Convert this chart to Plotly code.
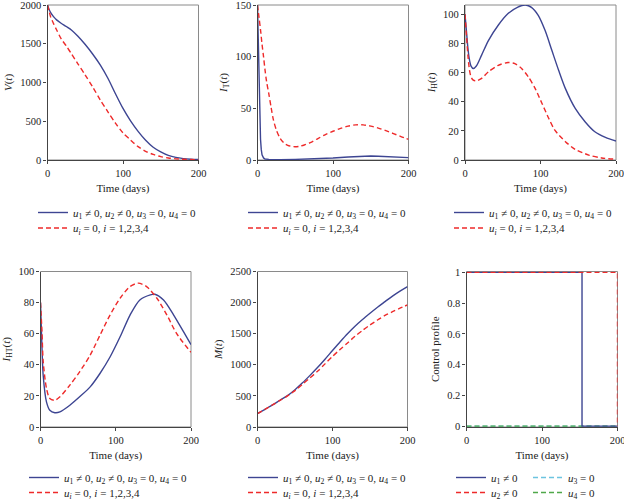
import plotly.graph_objects as go

# ---------------- data ----------------
# Panel 1: V(t)
t_V = [0, 2, 4, 8, 12, 18, 25, 32, 40, 50, 60, 70, 80, 90, 100, 110, 120, 130, 140, 150, 160, 170, 180, 190, 200]
V_ctrl = [2000, 1945, 1905, 1850, 1808, 1765, 1722, 1675, 1600, 1490, 1365, 1225, 1055, 855, 665, 505, 370, 255, 165, 105, 60, 33, 18, 10, 6]
V_none = [2000, 1925, 1850, 1760, 1680, 1565, 1470, 1365, 1245, 1095, 940, 773, 622, 475, 350, 258, 172, 112, 72, 43, 26, 15, 9, 6, 4]

# Panel 2: I_T(t)
t_IT_ctrl = [0, 1, 2, 3, 4, 5, 6, 8, 10, 15, 20, 30, 50, 70, 100, 120, 140, 150, 160, 180, 200]
IT_ctrl = [150, 110, 70, 38, 20, 10, 5, 2, 1.0, 0.6, 0.4, 0.4, 0.6, 1.0, 1.9, 2.9, 3.7, 3.8, 3.6, 3.0, 2.3]
t_IT_none = [0, 2, 4, 6, 8, 10, 12, 15, 18, 21, 25, 30, 35, 40, 48, 55, 62, 70, 80, 90, 100, 110, 120, 130, 140, 150, 160, 170, 180, 190, 200]
IT_none = [150, 138, 126, 112, 100, 87, 76, 64, 51, 39, 29, 21, 16.5, 14.2, 12.9, 13.2, 14.5, 16.8, 20.8, 24.6, 27.8, 30.6, 32.8, 34, 34, 32.8, 30.9, 28.5, 25.6, 22.7, 20]

# Panel 3: I_H(t)
t_IH_ctrl = [0, 2, 4, 6, 8, 11, 15, 22, 31, 44, 57, 70, 80, 88, 97, 106, 115, 124, 133, 146, 159, 172, 186, 200]
IH_ctrl = [100, 88, 76, 68.5, 64.5, 62.8, 64.5, 72, 82, 92.5, 100.5, 105, 106.4, 104.8, 99.3, 89, 75.3, 61.6, 49, 35.4, 26.3, 19.4, 15.5, 13]
t_IH_none = [0, 2, 4, 6, 8, 11, 15, 22, 31, 44, 57, 66, 75, 84, 93, 102, 111, 119, 133, 146, 164, 181, 200]
IH_none = [100, 85, 71, 61.5, 57, 54.8, 54.3, 56, 60.5, 65, 66.9, 66.2, 62.8, 57, 49, 38.8, 28.5, 20.5, 12.6, 7.3, 3.4, 1.4, 0.5]

# Panel 4: I_HT(t)
t_IHT_ctrl = [0, 2, 3.6, 8, 12.4, 19, 25.8, 39, 52, 66, 79, 92.4, 105.8, 119, 132, 146, 152, 163.5, 177, 190, 200]
IHT_ctrl = [80, 50.5, 33, 16, 10.8, 9.2, 9.7, 14, 19.4, 25.8, 34.4, 45, 58, 72, 81.7, 85, 85.4, 81.7, 72, 61.3, 53]
t_IHT_none = [0, 2, 3.6, 8, 12.4, 19, 25.8, 39, 52, 66, 79, 92.4, 105.8, 119, 130, 141, 154.7, 168, 181, 200]
IHT_none = [80, 61, 42, 24.7, 18.3, 17.2, 19.4, 26.9, 35.5, 46.2, 59, 72, 82.8, 90.3, 92.5, 90.3, 82.8, 72, 60, 48]

# Panel 5: M(t)
t_M = [0, 10, 20, 30, 40, 50, 60, 70, 80, 90, 100, 110, 120, 130, 140, 150, 160, 170, 180, 190, 200]
M_ctrl = [215, 285, 355, 430, 505, 600, 710, 830, 955, 1090, 1230, 1368, 1500, 1620, 1728, 1828, 1925, 2015, 2105, 2185, 2258]
M_none = [215, 285, 355, 428, 500, 585, 688, 790, 895, 1015, 1135, 1245, 1350, 1458, 1552, 1640, 1720, 1793, 1853, 1910, 1962]

# Panel 6: control profiles
t_u1 = [0, 153, 153, 200]
u1 = [1, 1, 0, 0]
t_u2 = [0, 200, 200]
u2 = [1, 1, 0]
t_u3 = [0, 200]
u3 = [0, 0]
t_u4 = [0, 200]
u4 = [0, 0]

# ---------------- labels ----------------
x_title = "Time (days)"
y_titles = ["<i>V</i>(<i>t</i>)", "<i>I</i><sub>T</sub>(<i>t</i>)", "<i>I</i><sub>H</sub>(<i>t</i>)",
            "<i>I</i><sub>HT</sub>(<i>t</i>)", "<i>M</i>(<i>t</i>)", "Control profile"]
name_ctrl = "<i>u</i><sub>1</sub> ≠ 0, <i>u</i><sub>2</sub> ≠ 0, <i>u</i><sub>3</sub> = 0, <i>u</i><sub>4</sub> = 0"
name_none = "<i>u<sub>i</sub></i> = 0, <i>i</i> = 1,2,3,4"
names_u = ["<i>u</i><sub>1</sub> ≠ 0", "<i>u</i><sub>2</sub> ≠ 0", "<i>u</i><sub>3</sub> = 0", "<i>u</i><sub>4</sub> = 0"]

# ---------------- style ----------------
W, H = 624, 501
FONT = "Liberation Serif"
BLUE = "#3d4592"
RED = "#ee2a2a"
CYAN = "#6cc4e0"
GREEN = "#4fa84a"
DASH = "5px,3px"

def px(x):
    return x / W

def py(y):
    return 1 - y / H

# panel boxes in pixels: left, right, top, bottom
boxes = [(47.5, 198.5, 5, 160), (257.5, 408.5, 5, 160), (465, 616, 5, 160),
         (40.5, 191, 271.5, 427), (257.5, 407.5, 271.5, 427), (466.5, 617.5, 271.5, 427)]
yranges = [[0, 2000], [0, 150], [0, 106.4], [0, 100], [0, 2500], [-0.006, 1.006]]
ydticks = [500, 50, 20, 20, 500, 0.2]

fig = go.Figure()

legend_id = [0]
legends = {}

def add(xs, ys, color, dash, name, panel, lx, ly, shape="spline"):
    legend_id[0] += 1
    lid = "legend" if legend_id[0] == 1 else f"legend{legend_id[0]}"
    ax = "" if panel == 1 else str(panel)
    fig.add_trace(go.Scatter(
        x=xs, y=ys, mode="lines", name=name,
        line=dict(color=color, width=1.4, dash=dash, shape=shape, smoothing=0.8 if shape == "spline" else None),
        xaxis="x" + ax, yaxis="y" + ax, legend=lid, showlegend=True))
    legends[lid] = dict(x=px(lx - 40), y=py(ly), xanchor="left", yanchor="middle",
                        bgcolor="rgba(0,0,0,0)", borderwidth=0,
                        font=dict(family=FONT, size=11, color="#222"))

top_rows = (212.5, 228)
bot_rows = (477.5, 492.5)

add(t_V, V_ctrl, BLUE, "solid", name_ctrl, 1, 73, top_rows[0])
add(t_V, V_none, RED, DASH, name_none, 1, 73, top_rows[1])
add(t_IT_ctrl, IT_ctrl, BLUE, "solid", name_ctrl, 2, 283, top_rows[0], shape="linear")
add(t_IT_none, IT_none, RED, DASH, name_none, 2, 283, top_rows[1])
add(t_IH_ctrl, IH_ctrl, BLUE, "solid", name_ctrl, 3, 489, top_rows[0])
add(t_IH_none, IH_none, RED, DASH, name_none, 3, 489, top_rows[1])
add(t_IHT_ctrl, IHT_ctrl, BLUE, "solid", name_ctrl, 4, 64, bot_rows[0])
add(t_IHT_none, IHT_none, RED, DASH, name_none, 4, 64, bot_rows[1])
add(t_M, M_ctrl, BLUE, "solid", name_ctrl, 5, 283, bot_rows[0])
add(t_M, M_none, RED, DASH, name_none, 5, 283, bot_rows[1])
add(t_u3, u3, CYAN, DASH, names_u[2], 6, 568, bot_rows[0], shape="linear")
add(t_u4, u4, GREEN, DASH, names_u[3], 6, 568, bot_rows[1], shape="linear")
add(t_u1, u1, BLUE, "solid", names_u[0], 6, 491, bot_rows[0], shape="linear")
add(t_u2, u2, RED, DASH, names_u[1], 6, 491, bot_rows[1], shape="linear")

layout = dict(
    width=W, height=H, margin=dict(l=0, r=0, t=0, b=0, autoexpand=False),
    paper_bgcolor="white", plot_bgcolor="white",
    font=dict(family=FONT, size=11, color="#222"),
)
layout.update(legends)

shapes = []
for i, (l, r, t, b) in enumerate(boxes):
    n = i + 1
    ax = "" if n == 1 else str(n)
    axis_common = dict(showline=True, linecolor="#444", linewidth=1.2, ticks="outside",
                       ticklen=3, tickwidth=1, tickcolor="#444", showgrid=False, zeroline=False,
                       automargin=False, ticklabeloverflow="allow",
                       tickfont=dict(family=FONT, size=10.5, color="#222"))
    layout["xaxis" + ax] = dict(domain=[px(l), px(r)], anchor="y" + ax, range=[0, 200],
                                tickvals=[0, 100, 200],
                                title=dict(text=x_title, font=dict(family=FONT, size=11), standoff=6),
                                **axis_common)
    layout["yaxis" + ax] = dict(domain=[py(b), py(t)], anchor="x" + ax, range=yranges[i],
                                dtick=ydticks[i], tick0=0,
                                title=dict(text=y_titles[i], font=dict(family=FONT, size=11), standoff=5),
                                **axis_common)
    shapes.append(dict(type="rect", xref="x" + ax + " domain", yref="y" + ax + " domain",
                       x0=0, x1=1, y0=0, y1=1, line=dict(color="#8a8a8a", width=1), layer="below"))
layout["shapes"] = shapes
fig.update_layout(**layout)

fig.write_html("out.html", config={"displayModeBar": False},
               post_script="document.body.style.margin='0px';document.body.style.overflow='hidden';")
